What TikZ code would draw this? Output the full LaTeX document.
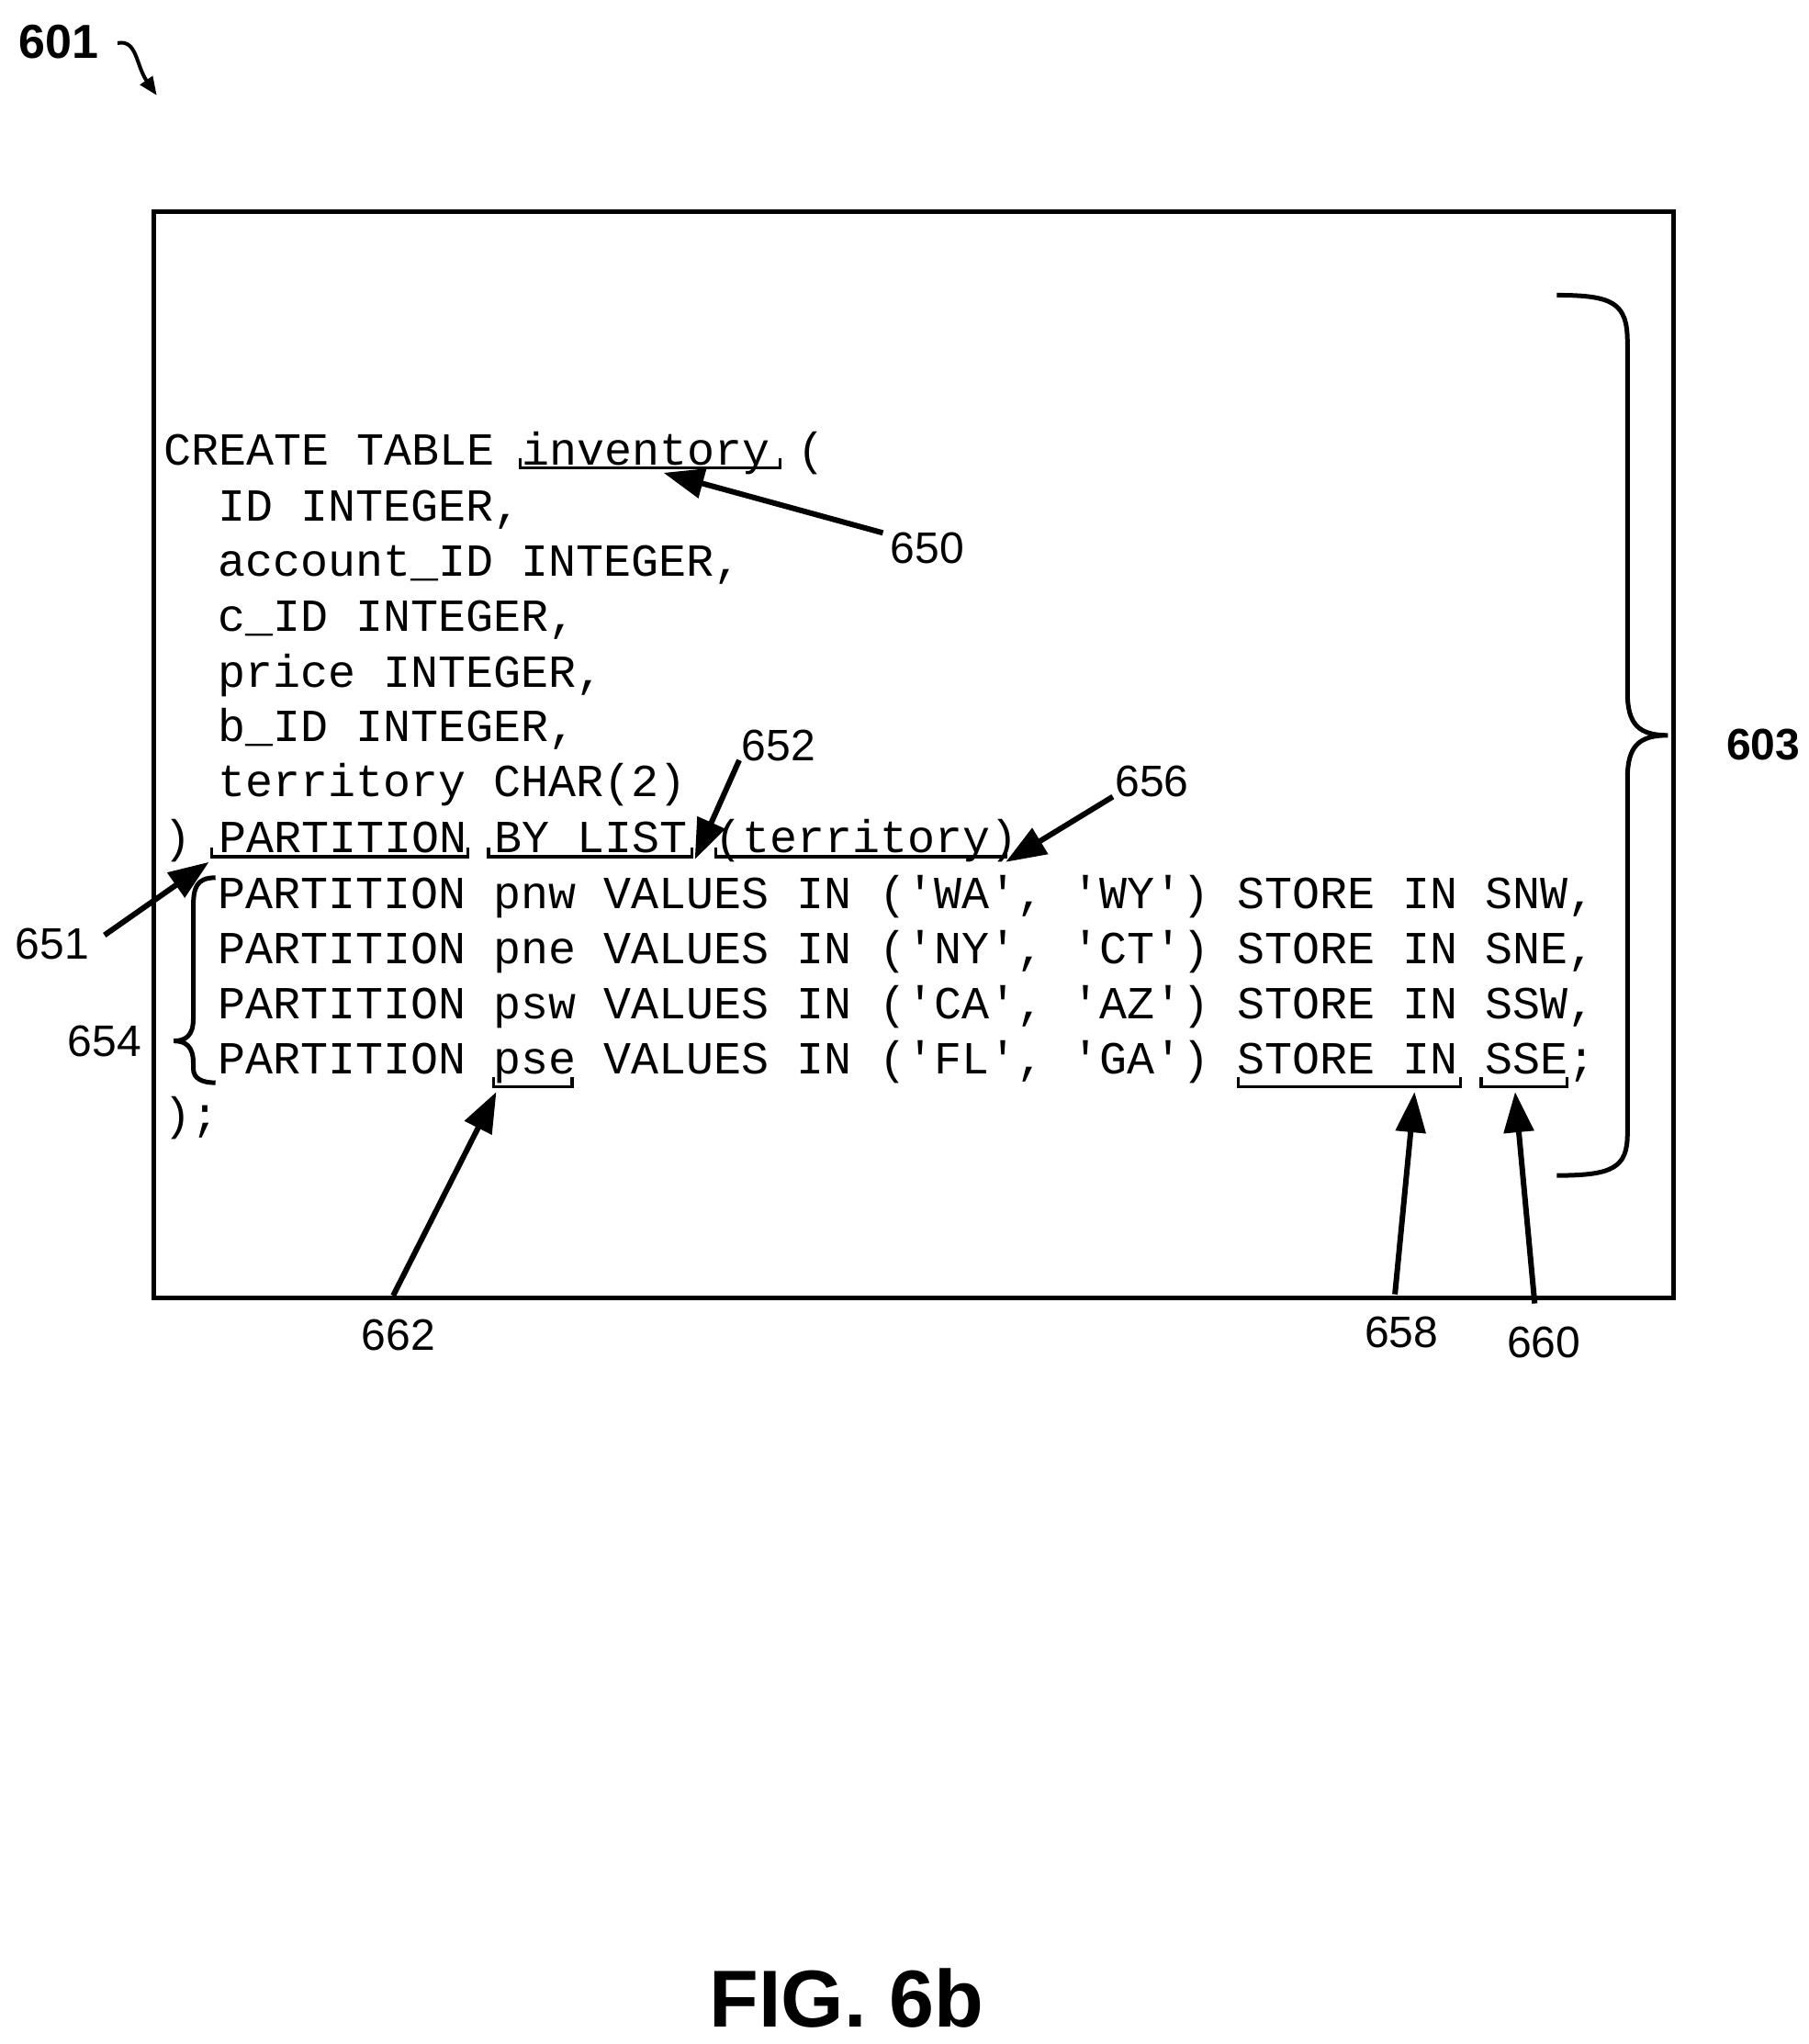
\documentclass[tikz,border=0pt]{standalone}
\usepackage{fontspec}
\setmainfont{Liberation Sans}
\setmonofont{Liberation Mono}
\usetikzlibrary{arrows.meta}
\begin{document}
\begin{tikzpicture}[x=0.7113pt,y=-0.7113pt,
  code/.style={anchor=base west,inner sep=0,font=\ttfamily\fontsize{25}{25}\selectfont},
  lbl/.style={inner sep=1pt,font=\fontsize{24}{24}\selectfont},
  blbl/.style={inner sep=1pt,font=\bfseries\fontsize{24}{24}\selectfont},
  arr/.style={line width=3pt,-{Triangle[length=22pt,width=16pt]}},
  ul/.style={line width=1.6pt}]
\useasboundingbox (0,0) rectangle (1385,1565);
\draw[line width=2.5pt] (118,162) rectangle (1281,994);
% code
\node[code] (l1) at (125,356) {CREATE TABLE inventory (};
\node[code] (l2) at (167,399) {ID INTEGER,};
\node[code] (l3) at (167,441) {account\_ID INTEGER,};
\node[code] (l4) at (167,483) {c\_ID INTEGER,};
\node[code] (l5) at (167,526) {price INTEGER,};
\node[code] (l6) at (167,568) {b\_ID INTEGER,};
\node[code] (l7) at (167,610) {territory CHAR(2)};
\node[code] (l8) at (125,653) {) PARTITION BY LIST (territory)};
\node[code] (l9) at (167,696) {PARTITION pnw VALUES IN ('WA', 'WY') STORE IN SNW,};
\node[code] (l10) at (167,738) {PARTITION pne VALUES IN ('NY', 'CT') STORE IN SNE,};
\node[code] (l11) at (167,780) {PARTITION psw VALUES IN ('CA', 'AZ') STORE IN SSW,};
\node[code] (l12) at (167,822) {PARTITION pse VALUES IN ('FL', 'GA') STORE IN SSE;};
\node[code] (l13) at (125,865) {);};
% underlines
\foreach \a/\b/\y in {398/597/358, 162/358/656, 374/530/656, 548/770/656, 378/438/832, 948/1118/832, 1134/1200/832}
  \draw[ul] (\a,\y-7) -- (\a,\y) -- (\b,\y) -- (\b,\y-7);
% labels and arrows
\node[lbl] (n650) at (710,420) {650};
\coordinate (t650) at (508,362);
\draw[arr] (676,408) -- (t650);
\node[lbl] (n652) at (596,571) {652};
\coordinate (t652) at (532,658);
\draw[arr] (566,582) -- (t652);
\node[lbl] (n656) at (882,598) {656};
\coordinate (t656) at (770,660);
\draw[arr] (852,610) -- (t656);
\node[lbl] (n651) at (40,723) {651};
\coordinate (t651) at (160,660);
\draw[arr] (80,716) -- (t651);
\node[lbl] (n654) at (80,797) {654};
\node[lbl] (n662) at (305,1022) {662};
\coordinate (t662) at (380,836);
\draw[arr] (301,992) -- (t662);
\node[lbl] (n658) at (1073,1020) {658};
\coordinate (t658) at (1083,836);
\draw[arr] (1068,991) -- (t658);
\node[lbl] (n660) at (1182,1028) {660};
\coordinate (t660) at (1160,836);
\draw[arr] (1175,998) -- (t660);
% left brace 654
\draw[line width=2.5pt] (165,672) .. controls (150,672) and (148,680) .. (148,695)
  -- (148,780) .. controls (148,793) and (142,797) .. (133,797)
  .. controls (142,797) and (148,801) .. (148,814) -- (148,818)
  .. controls (148,826) and (155,829) .. (165,829);
% right brace 603
\draw[line width=2.5pt] (1192,226) .. controls (1235,226) and (1246,232) .. (1246,262)
  -- (1246,530) .. controls (1246,555) and (1255,563) .. (1277,563)
  .. controls (1255,563) and (1246,571) .. (1246,596)
  -- (1246,868) .. controls (1246,894) and (1235,900) .. (1192,900);
\node[blbl] (n603) at (1350,570) {603};
% 601
\node[blbl,font=\bfseries\fontsize{26}{26}\selectfont] (n601) at (45,32) {601};
\coordinate (t601) at (120,73);
\draw[line width=2pt,-{Triangle[length=10pt,width=8pt]}] (90,33) .. controls (105,30) and (104,50) .. (t601);
% caption
\node[inner sep=0,font=\bfseries\fontsize{44}{44}\selectfont] (cap) at (648,1530) {FIG. 6b};
\end{tikzpicture}
\end{document}
